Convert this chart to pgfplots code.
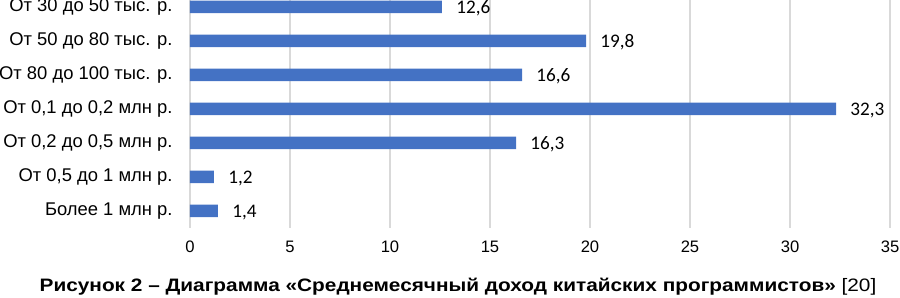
\documentclass[border=0pt]{standalone}
\usepackage{pgfplots}
\pgfplotsset{compat=1.18}
\usepackage{fontspec}
\setmainfont{Liberation Sans}
\newfontfamily\carlito{Carlito}
\definecolor{barblue}{HTML}{4472C4}
\definecolor{gridgray}{HTML}{D9D9D9}
\begin{document}
\begin{tikzpicture}
\begin{axis}[
  at={(0,0)}, anchor=south west,
  width=350pt, height=114pt, scale only axis,
  xbar, bar width=6.25pt,
  xmin=0, xmax=35, xtick={0,5,...,35},
  ymin=-0.206, ymax=6.5, y dir=reverse,
  ytick={0,...,6},
  yticklabels={{От 30 до 50 тыс. р.},{От 50 до 80 тыс. р.},{От 80 до 100 тыс. р.},{От 0,1 до 0,2 млн р.},{От 0,2 до 0,5 млн р.},{От 0,5 до 1 млн р.},{Более 1 млн р.}},
  axis line style={draw=none},
  major tick length=0pt,
  xmajorgrids, grid style={gridgray, line width=0.6pt},
  /pgf/number format/assume math mode=true,
  xticklabel style={font=\fontsize{8.3}{10}\selectfont, anchor=base, yshift=-12.5pt},
  yticklabel style={font=\fontsize{9.2}{11}\selectfont, anchor=east, inner xsep=0pt, xshift=-8.5pt},
  point meta=x,
  nodes near coords={\pgfmathprintnumber[fixed,fixed zerofill,precision=1,use comma,assume math mode=true]{\pgfplotspointmeta}},
  nodes near coords align={horizontal},
  every node near coord/.append style={font=\carlito\fontsize{9.6}{11}\selectfont, anchor=west, inner xsep=0pt, xshift=7pt, yshift=-0.8pt, text=black},
  clip=false,
]
\addplot[fill=barblue, draw=none] coordinates {
  (12.6,0) (19.8,1) (16.6,2) (32.3,3) (16.3,4) (1.2,5) (1.4,6)
};
\end{axis}
\node[font=\fontsize{9}{10}\selectfont, anchor=base, inner sep=0pt] at (134pt,-32pt) {\scalebox{1.156}[1]{\textbf{Рисунок 2 – Диаграмма «Среднемесячный доход китайских программистов»} [20]}};
\pgfresetboundingbox
\useasboundingbox (-95pt,-35pt) rectangle (355pt,114pt);
\end{tikzpicture}
\end{document}
